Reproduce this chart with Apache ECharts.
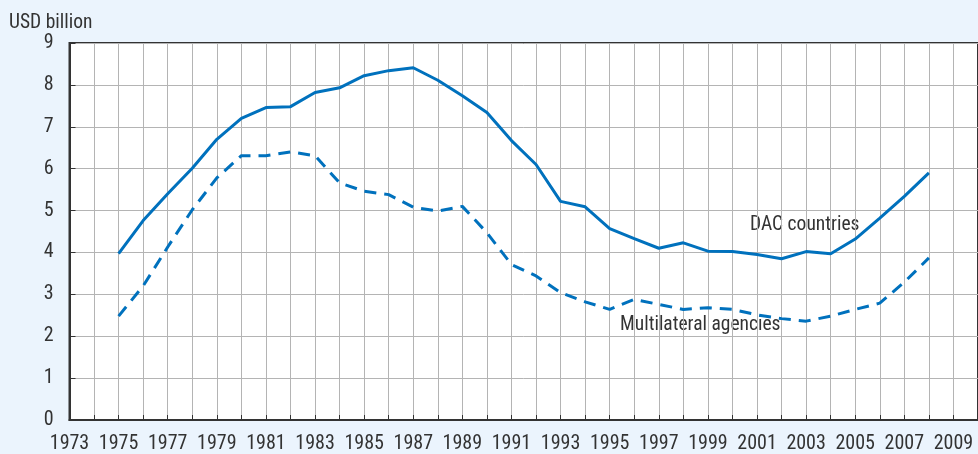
<!DOCTYPE html>
<html>
<head>
<meta charset="utf-8">
<script src="https://cdn.jsdelivr.net/npm/echarts@6/dist/echarts.min.js"></script>
<style>
html,body{margin:0;padding:0;background:#ebf4fd;}
#c{width:978px;height:454px;}
</style>
</head>
<body>
<div id="c"></div>
<script>
var years = [];
for (var y = 1973; y <= 2010; y++) years.push(String(y));

var dacYears = [1975,1976,1977,1978,1979,1980,1981,1982,1983,1984,1985,1986,1987,1988,1989,1990,1991,1992,1993,1994,1995,1996,1997,1998,1999,2000,2001,2002,2003,2004,2005,2006,2007,2008];
var dacCountries = [3.97,4.76,5.40,6.01,6.70,7.20,7.46,7.48,7.82,7.93,8.22,8.34,8.41,8.11,7.74,7.34,6.67,6.10,5.22,5.09,4.57,4.33,4.10,4.23,4.03,4.02,3.95,3.85,4.02,3.97,4.32,4.82,5.34,5.90];
var multilateralAgencies = [2.48,3.20,4.13,5.02,5.78,6.31,6.31,6.40,6.31,5.66,5.46,5.38,5.08,4.99,5.10,4.47,3.71,3.44,3.04,2.82,2.64,2.88,2.76,2.64,2.68,2.64,2.51,2.42,2.36,2.48,2.64,2.79,3.29,3.87];
var yTicks = [0,1,2,3,4,5,6,7,8,9];

function toSeries(vals) {
  var map = {};
  dacYears.forEach(function (yr, i) { map[String(yr)] = vals[i]; });
  return years.map(function (yr) { return map[yr] === undefined ? null : map[yr]; });
}

var FONT = "'Roboto Condensed',sans-serif";
var chart = echarts.init(document.getElementById('c'), null, {renderer: 'canvas'});
chart.setOption({
  backgroundColor: '#ebf4fd',
  animation: false,
  textStyle: {fontFamily: FONT},
  grid: {
    left: 69.5, top: 43, bottom: 33, width: 922,
    show: true, backgroundColor: '#ffffff', borderColor: '#333333', borderWidth: 2,
    containLabel: false
  },
  xAxis: {
    type: 'category',
    data: years,
    boundaryGap: false,
    axisLine: {show: true, lineStyle: {color: '#333333', width: 2}},
    axisTick: {show: true, inside: true, length: 5, interval: 0, lineStyle: {color: '#333333', width: 1}},
    axisLabel: {interval: 1, color: '#333333', fontSize: 20, fontFamily: FONT, margin: 14},
    splitLine: {show: true, interval: 0, lineStyle: {color: '#b4b4b4', width: 1}}
  },
  yAxis: {
    type: 'value',
    min: 0, max: 9, interval: 1,
    axisLine: {show: true, lineStyle: {color: '#333333', width: 2}},
    axisTick: {show: true, inside: true, length: 6, lineStyle: {color: '#333333', width: 1}},
    axisLabel: {color: '#333333', fontSize: 20, fontFamily: FONT, margin: 16,
      formatter: function (v) { return yTicks.indexOf(v) >= 0 ? String(v) : ''; }},
    splitLine: {show: true, lineStyle: {color: '#b4b4b4', width: 1}}
  },
  series: [
    {
      name: 'DAC countries', type: 'line', data: toSeries(dacCountries),
      symbol: 'none', connectNulls: false,
      lineStyle: {color: '#0071bd', width: 3, type: 'solid'}
    },
    {
      name: 'Multilateral agencies', type: 'line', data: toSeries(multilateralAgencies),
      symbol: 'none', connectNulls: false,
      lineStyle: {color: '#0071bd', width: 3, type: [12, 8]}
    }
  ],
  graphic: [
    {type: 'text', left: 9, top: 13, style: {text: 'USD billion', fill: '#333333', font: '19.5px ' + FONT}},
    {type: 'text', left: 750, top: 215, style: {text: 'DAC countries', fill: '#333333', font: '19.5px ' + FONT}},
    {type: 'text', left: 620, top: 315, style: {text: 'Multilateral agencies', fill: '#333333', font: '19.5px ' + FONT}}
  ]
});
</script>
</body>
</html>
